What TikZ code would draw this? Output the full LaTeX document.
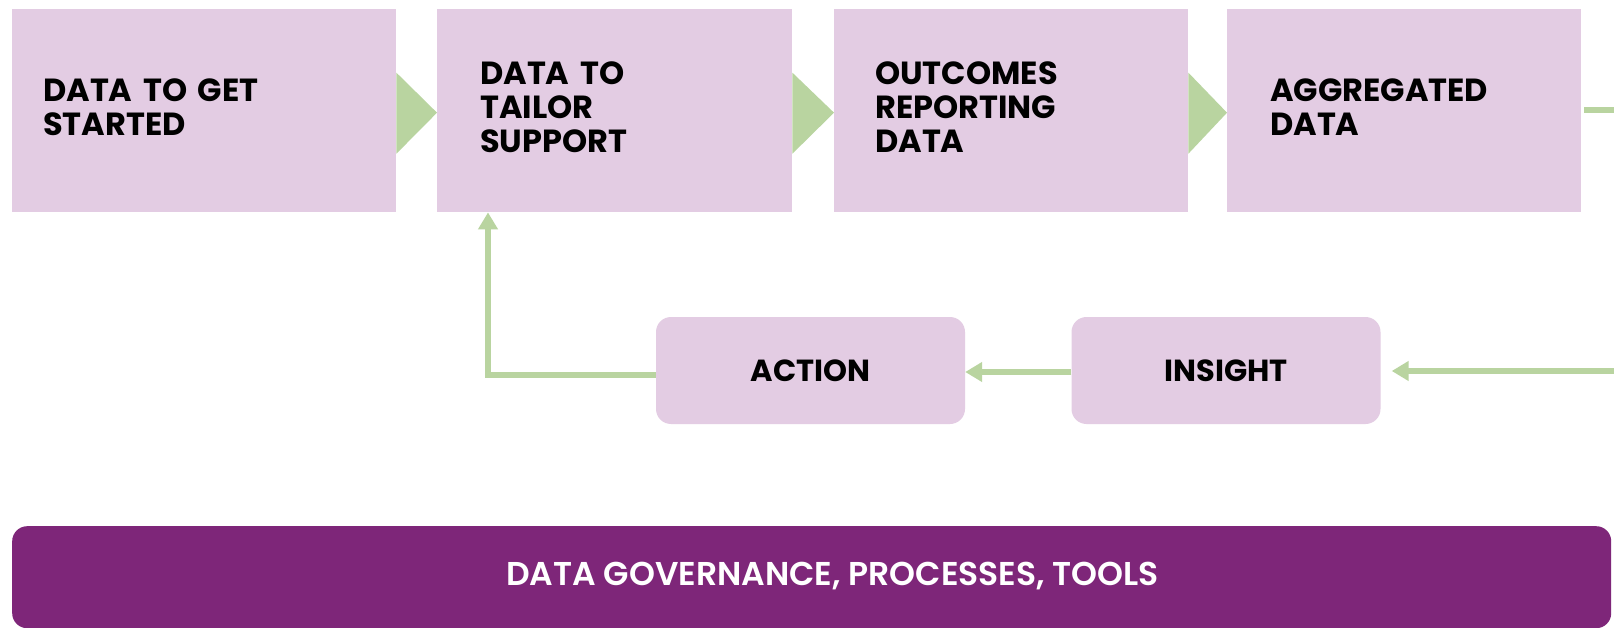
\documentclass[tikz,border=0pt]{standalone}
\usepackage{fontspec}
\setmainfont{Poppins}
\newfontfamily\popsemi{Poppins SemiBold}
\usetikzlibrary{arrows.meta,calc}
\definecolor{boxc}{HTML}{E3CCE3}
\definecolor{grn}{HTML}{B9D4A0}
\definecolor{purp}{HTML}{7E2679}
\newcommand\lift{\rule[-7pt]{0pt}{7pt}}
\begin{document}
\begin{tikzpicture}[x=1pt,y=-1pt,
  topbox/.style={fill=boxc, minimum height=203pt, inner ysep=0pt, align=left, anchor=north west,
    font=\fontsize{32}{34}\selectfont\bfseries},
  smallbox/.style={fill=boxc, rounded corners=15pt, minimum width=309pt, minimum height=107pt,
    font=\fontsize{30.5}{34}\selectfont\bfseries},
  bar/.style={fill=purp, rounded corners=15pt, minimum width=1599pt, minimum height=102pt, anchor=north west},
  bartext/.style={text=white, font=\fontsize{33}{36}\selectfont\popsemi},
  conn/.style={draw=grn, line width=6pt},
  arr/.style={conn, -{Triangle[length=17pt,width=19pt]}},
  chev/.style={fill=grn}]
\useasboundingbox (0,0) rectangle (1614,628);
\fill[white] (0,0) rectangle (1614,628);
% top row
\node[topbox, inner xsep=31pt, text width=322pt] (b1) at (12,9) {DATA TO GET\\STARTED\lift};
\node[topbox, inner xsep=43pt, text width=269pt] (b2) at (437,9) {DATA TO\\TAILOR\\SUPPORT\lift};
\node[topbox, inner xsep=41pt, text width=272pt] (b3) at (834,9) {OUTCOMES\\REPORTING\\DATA\lift};
\node[topbox, inner xsep=43pt, text width=268pt] (b4) at (1227,9) {AGGREGATED\\DATA\lift};
% chevrons
\fill[chev] ($(b1.east)+(0,-38)$) -- ($(b2.west)+(0,2)$) -- ($(b1.east)+(0,43)$) -- cycle;
\fill[chev] ($(b2.east)+(0,-38)$) -- ($(b3.west)+(0,2)$) -- ($(b2.east)+(0,43)$) -- cycle;
\fill[chev] ($(b3.east)+(0,-38)$) -- ($(b4.west)+(0,2)$) -- ($(b3.east)+(0,43)$) -- cycle;
% feedback row
\node[smallbox] (action) at (810.5,370.5) {ACTION};
\node[smallbox] (insight) at (1226,370.5) {INSIGHT};
\coordinate (r1) at (1614,110);
\coordinate (r2) at (1614,371);
\draw[conn] ([xshift=3pt]b4.east |- r1) -- (r1);
\draw[arr, shorten >=11pt] (r2) -- (insight.east |- r2);
\draw[arr] ([yshift=-1.5pt]insight.west) -- ([yshift=-1.5pt]action.east);
\draw[arr] ([yshift=-4.5pt]action.west) -| ([xshift=51pt]b2.south west);
% governance bar
\node[bar] (gov) at (12,526) {};
\node[bartext] (govtext) at (832.5,576) {DATA GOVERNANCE, PROCESSES, TOOLS};
\end{tikzpicture}
\end{document}
